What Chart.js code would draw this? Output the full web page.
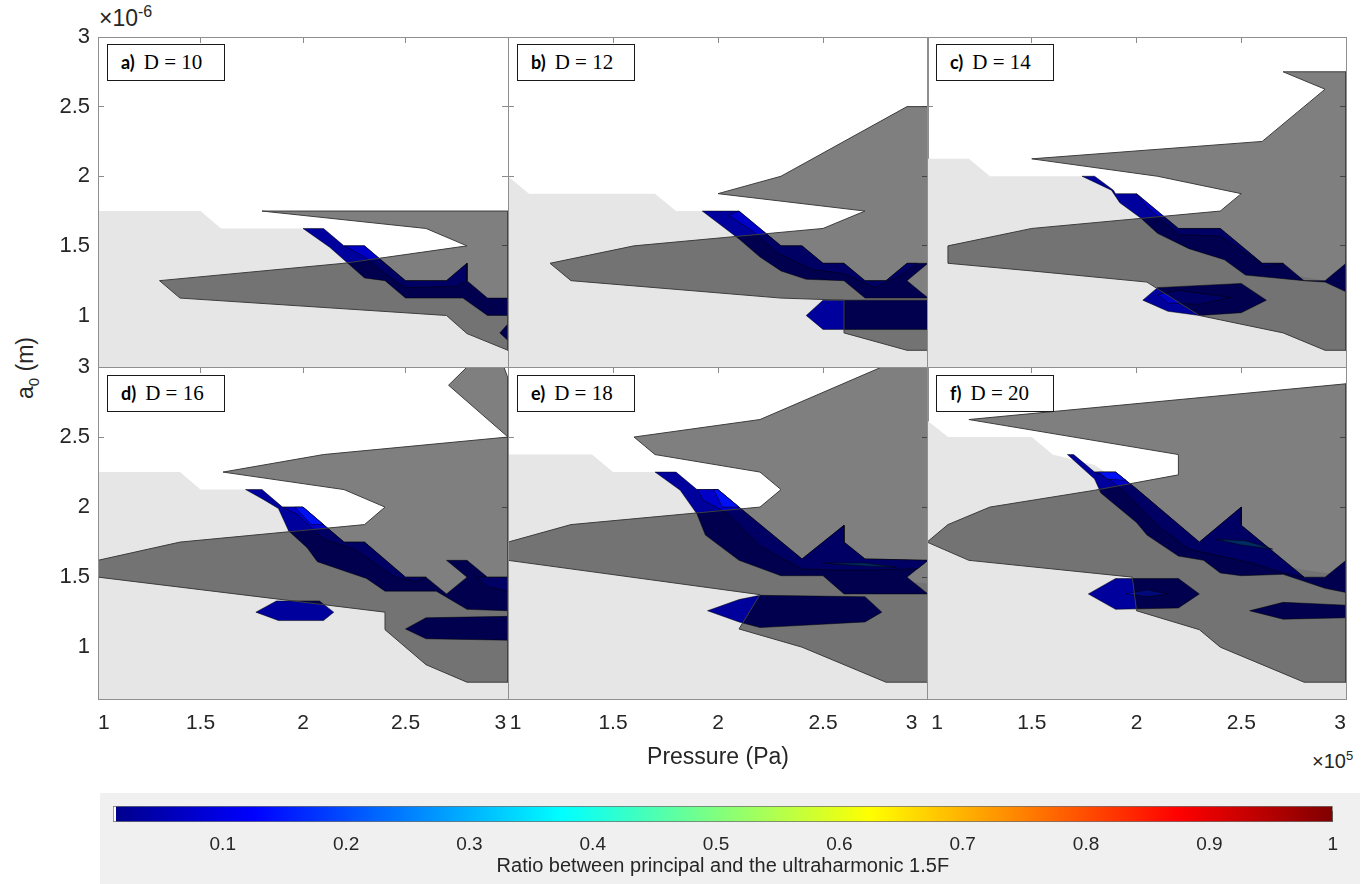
<!DOCTYPE html>
<html>
<head>
<meta charset="utf-8">
<title>Ratio contours</title>
<script src="https://cdn.jsdelivr.net/npm/chart.js@4.4.1/dist/chart.umd.min.js"></script>
<style>
  html, body { margin: 0; padding: 0; background: #fff; }
  #fig { position: relative; width: 1362px; height: 884px; overflow: hidden;
         font-family: "Liberation Sans", Arial, sans-serif; color: #262626; }
  #fig canvas { position: absolute; }
  .frame { position: absolute; border: 1px solid #8f8f8f; box-sizing: border-box; pointer-events: none; }
  .tag { position: absolute; width: 118px; height: 37px; box-sizing: border-box; border: 1.5px solid #1a1a1a;
         background: #fff; line-height: 34px; padding-left: 13px; white-space: nowrap; color: #000; }
  .tag b { font-family: Lato, "Open Sans", sans-serif; font-size: 18px; margin-right: 9px; }
  .tag span { font-family: "Liberation Serif", serif; font-size: 21px; }
  .txt { position: absolute; white-space: nowrap; }
  #cbbox { position: absolute; left: 100px; top: 793px; width: 1260px; height: 91px; background: #f0f0f0; }
</style>
</head>
<body>
<div id="fig">
  <div id="cbbox"></div>
  <div class="txt" style="left:99px;top:3px;font-size:23px;">&times;10<sup style="font-size:16px;">-6</sup></div>
  <div class="txt" style="left:1312px;top:748px;font-size:20px;">&times;10<sup style="font-size:13px;">5</sup></div>
  <div class="txt" style="left:27px;top:368px;font-size:23px;transform:translate(-50%,-50%) rotate(-90deg);">a<sub style="font-size:15px;">0</sub> (m)</div>
</div>
<script>
// axes
const xTicks = [1, 1.5, 2, 2.5, 3];
const yTicks = [1, 1.5, 2, 2.5, 3];
const xMin = 1, xMax = 3;
const yMin = 0.63, yMax = 3;

// colorbar
const cbTicks = [0.1, 0.2, 0.3, 0.4, 0.5, 0.6, 0.7, 0.8, 0.9, 1];
const cbMin = 0.011, cbMax = 1;
const jetStops = [[0.0136, '#00008d'], [0.125, '#0000ff'], [0.375, '#00ffff'], [0.625, '#ffff00'], [0.875, '#ff0000'], [1, '#800000']];

const panelLetters = ['a)', 'b)', 'c)', 'd)', 'e)', 'f)'];
const panelD = [10, 12, 14, 16, 18, 20];

// polygons, [pressure x1e5, a0 x1e-6]
// a) D = 10
const lightA = [[1,0.5],[1,1.75],[1.5,1.75],[1.6,1.625],[2.05,1.625],[2.15,1.5],[2.28,1.375],[2.4,1.25],[2.55,1.17],[2.8,1.12],[2.9,1.05],[3.05,1.05],[3.05,0.5]];
const blueA = [[2.0,1.625],[2.1,1.625],[2.2,1.5],[2.3,1.5],[2.4,1.375],[2.5,1.25],[2.7,1.25],[2.8,1.375],[2.8,1.25],[2.9,1.125],[3.0,1.125],[3.0,1.0],[2.9,1.0],[2.78,1.125],[2.5,1.125],[2.4,1.25],[2.3,1.27],[2.23,1.36],[2.13,1.49]];
const blueA2 = [[2.2,1.5],[2.3,1.5],[2.4,1.375],[2.5,1.25],[2.7,1.25],[2.8,1.375],[2.8,1.25],[2.75,1.21],[2.5,1.2],[2.4,1.3],[2.3,1.42],[2.24,1.47]];
const blueA3 = [[2.96,0.875],[3.0,0.94],[3.0,0.82]];
const shadeA = [[1.8,1.75],[3.0,1.75],[3.0,0.75],[2.8,0.87],[2.7,1.0],[1.4,1.125],[1.3,1.25],[2.2,1.375],[2.8,1.5],[2.6,1.625]];

// b) D = 12
const lightB = [[1,0.5],[1,2.0],[1.1,1.875],[1.7,1.875],[1.8,1.75],[2.0,1.75],[2.2,1.55],[2.35,1.42],[2.55,1.3],[2.75,1.18],[3.05,1.15],[3.05,0.5]];
const blueB = [[1.925,1.75],[2.1,1.75],[2.3,1.5],[2.4,1.5],[2.5,1.375],[2.6,1.375],[2.7,1.25],[2.8,1.25],[2.9,1.375],[3.0,1.375],[2.9,1.25],[3.0,1.125],[2.7,1.125],[2.6,1.25],[2.42,1.26],[2.3,1.32],[2.2,1.42],[2.1,1.55]];
const blueB2 = [[2.1,1.75],[2.3,1.5],[2.4,1.5],[2.5,1.375],[2.6,1.375],[2.7,1.25],[2.8,1.25],[2.9,1.375],[2.95,1.375],[2.88,1.3],[2.75,1.2],[2.6,1.3],[2.45,1.33],[2.28,1.45],[2.17,1.6],[2.05,1.72]];
const blueB3 = [[2.42,1.0],[2.5,1.11],[3.0,1.11],[3.0,0.9],[2.5,0.9]];
const shadeB = [[2.0,1.875],[2.3,2.0],[2.9,2.5],[3.0,2.5],[3.0,0.75],[2.9,0.75],[2.6,0.875],[2.6,1.11],[2.3,1.125],[1.3,1.25],[1.2,1.375],[1.6,1.5],[2.5,1.625],[2.7,1.75]];

// c) D = 14
const lightC = [[1,0.5],[1,2.125],[1.2,2.125],[1.3,2.0],[1.8,2.0],[1.9,1.875],[2.05,1.8],[2.2,1.6],[2.45,1.5],[2.6,1.33],[2.9,1.25],[3.05,1.2],[3.05,0.5]];
const blueC = [[1.74,2.0],[1.8,2.0],[1.89,1.9],[1.9,1.875],[2.0,1.875],[2.2,1.625],[2.4,1.625],[2.6,1.375],[2.7,1.375],[2.8,1.25],[2.9,1.25],[3.0,1.375],[3.0,1.17],[2.9,1.24],[2.8,1.25],[2.52,1.29],[2.42,1.4],[2.25,1.48],[2.1,1.59],[2.02,1.7],[1.92,1.81],[1.88,1.9]];
const blueC2 = [[2.0,1.875],[2.2,1.625],[2.4,1.625],[2.6,1.375],[2.7,1.375],[2.62,1.35],[2.4,1.57],[2.2,1.58],[2.05,1.78]];
const blueC3 = [[2.03,1.11],[2.1,1.2],[2.5,1.23],[2.62,1.11],[2.5,1.02],[2.3,1.0],[2.15,1.03]];
const blueC4 = [[2.1,1.15],[2.2,1.18],[2.45,1.13],[2.3,1.08],[2.15,1.09]];
const shadeC = [[2.7,2.75],[3.0,2.75],[3.0,0.75],[2.9,0.75],[2.7,0.875],[2.3,1.0],[2.05,1.24],[1.5,1.32],[1.1,1.375],[1.1,1.5],[1.5,1.625],[2.4,1.75],[2.5,1.875],[2.1,2.0],[1.5,2.125],[2.6,2.25],[2.9,2.625]];

// d) D = 16
const lightD = [[1,0.5],[1,2.25],[1.4,2.25],[1.5,2.125],[1.8,2.125],[1.9,2.0],[2.0,1.95],[2.15,1.75],[2.35,1.6],[2.55,1.45],[2.8,1.35],[3.05,1.3],[3.05,0.5]];
const blueD = [[1.72,2.125],[1.8,2.125],[1.9,2.0],[2.0,2.0],[2.2,1.75],[2.3,1.75],[2.5,1.5],[2.6,1.5],[2.7,1.38],[2.8,1.5],[2.7,1.62],[2.8,1.62],[2.9,1.5],[3.0,1.5],[3.0,1.26],[2.8,1.27],[2.65,1.4],[2.4,1.4],[2.31,1.49],[2.07,1.61],[2.02,1.71],[1.93,1.83],[1.88,1.99],[1.8,2.06]];
const blueD2 = [[1.9,2.0],[2.0,2.0],[2.2,1.75],[2.3,1.75],[2.5,1.5],[2.6,1.5],[2.55,1.47],[2.45,1.5],[2.25,1.7],[2.1,1.77],[1.97,1.95]];
const blueD3 = [[1.96,2.0],[2.0,2.0],[2.1,1.875],[2.04,1.875]];
const blueD4 = [[2.85,1.5],[3.0,1.5],[3.0,1.4],[2.9,1.43]];
const blueD5 = [[1.77,1.25],[1.87,1.33],[2.08,1.33],[2.15,1.25],[2.1,1.19],[1.88,1.19]];
const blueD6 = [[2.5,1.13],[2.6,1.21],[3.0,1.22],[3.0,1.05],[2.6,1.06]];
const shadeD = [[1.61,2.25],[2.1,2.375],[3.0,2.5],[3.0,0.75],[2.8,0.75],[2.6,0.875],[2.4,1.125],[2.4,1.25],[1.0,1.5],[1.0,1.62],[1.4,1.75],[2.3,1.875],[2.4,2.0],[2.2,2.125]];
const shadeD2 = [[2.71,2.87],[2.8,3.0],[2.98,3.0],[3.0,2.92],[3.0,2.5]];

// e) D = 18
const lightE = [[1,0.5],[1,2.375],[1.4,2.375],[1.5,2.25],[1.8,2.25],[1.9,2.1],[2.05,2.0],[2.3,1.7],[2.6,1.5],[3.05,1.45],[3.05,0.5]];
const blueE = [[1.7,2.25],[1.8,2.25],[1.9,2.125],[2.0,2.125],[2.1,2.0],[2.4,1.63],[2.6,1.87],[2.6,1.75],[2.7,1.63],[3.0,1.62],[2.9,1.5],[3.0,1.38],[2.6,1.38],[2.5,1.51],[2.3,1.51],[2.1,1.62],[1.94,1.8],[1.9,1.95],[1.82,2.12]];
const blueE2 = [[1.9,2.125],[2.0,2.125],[2.1,2.0],[2.4,1.63],[2.6,1.87],[2.6,1.75],[2.7,1.63],[3.0,1.62],[2.95,1.56],[2.7,1.55],[2.55,1.55],[2.4,1.56],[2.2,1.72],[2.05,1.95],[1.93,2.05]];
const blueE3 = [[1.98,2.125],[2.0,2.125],[2.1,2.0],[2.02,2.0]];
const blueE4 = [[2.5,1.6],[2.7,1.6],[2.85,1.57],[2.7,1.58]];
const blueE5 = [[1.95,1.26],[2.1,1.34],[2.2,1.37],[2.7,1.36],[2.78,1.25],[2.7,1.18],[2.2,1.14],[2.1,1.18]];
const shadeE = [[1.6,2.5],[2.2,2.625],[2.78,3.0],[3.0,3.0],[3.0,0.75],[2.8,0.75],[2.4,1.0],[2.1,1.13],[2.2,1.375],[1.0,1.62],[1.0,1.75],[1.3,1.875],[2.2,2.0],[2.3,2.125],[2.2,2.25],[1.7,2.375]];

// f) D = 20
const lightF = [[1,0.5],[1,2.62],[1.1,2.5],[1.5,2.5],[1.6,2.375],[1.8,2.3],[1.95,2.15],[2.2,1.8],[2.5,1.65],[2.8,1.55],[3.05,1.5],[3.05,0.5]];
const blueF = [[1.67,2.375],[1.7,2.375],[1.8,2.25],[1.9,2.25],[2.0,2.13],[2.3,1.75],[2.5,2.0],[2.5,1.87],[2.8,1.5],[2.9,1.5],[3.0,1.62],[3.0,1.39],[2.9,1.42],[2.7,1.52],[2.5,1.51],[2.4,1.53],[2.32,1.62],[2.2,1.65],[2.05,1.8],[2.0,1.89],[1.83,2.1],[1.8,2.2]];
const blueF2 = [[1.8,2.25],[1.9,2.25],[2.0,2.13],[2.3,1.75],[2.5,2.0],[2.5,1.87],[2.8,1.5],[2.7,1.53],[2.55,1.6],[2.4,1.65],[2.25,1.7],[2.1,1.87],[1.95,2.1],[1.87,2.2]];
const blueF3 = [[2.38,1.77],[2.52,1.76],[2.65,1.7],[2.5,1.73]];
const blueF4 = [[1.82,2.25],[1.9,2.25],[1.95,2.19],[1.86,2.2]];
const blueF5 = [[1.77,1.38],[1.9,1.49],[2.2,1.49],[2.3,1.38],[2.2,1.28],[1.9,1.27]];
const blueF6 = [[1.95,1.38],[2.05,1.41],[2.15,1.38],[2.05,1.36]];
const blueF7 = [[2.54,1.26],[2.7,1.32],[3.0,1.3],[3.0,1.21],[2.7,1.2]];
const shadeF = [[1.2,2.625],[3.0,2.88],[3.0,0.75],[2.8,0.75],[2.4,1.0],[2.3,1.125],[2.0,1.26],[1.98,1.5],[1.2,1.62],[1.0,1.75],[1.1,1.875],[1.3,2.0],[1.8,2.12],[2.2,2.23],[2.2,2.375]];

const LIGHT = '#e6e6e6';
const SHADE = 'rgba(0,0,0,0.5)';
const L1 = '#00009c', L2 = '#0000c8', L3 = '#0010f4', TEAL = '#0058c8';

// bottom layer first
const panelLayers = [
  [[lightA, LIGHT, 'bg'], [blueA, L1, 'c'], [blueA2, L2, 'c'], [blueA3, L1, 'c'], [shadeA, SHADE, 'sh']],
  [[lightB, LIGHT, 'bg'], [blueB, L1, 'c'], [blueB2, L2, 'c'], [blueB3, L1, 'c'], [shadeB, SHADE, 'sh']],
  [[lightC, LIGHT, 'bg'], [blueC, L1, 'c'], [blueC2, L2, 'c'], [blueC3, L1, 'c'], [blueC4, L2, 'c'], [shadeC, SHADE, 'sh']],
  [[lightD, LIGHT, 'bg'], [blueD, L1, 'c'], [blueD2, L2, 'c'], [blueD3, L3, 'c'], [blueD4, L2, 'c'], [blueD5, L1, 'c'], [blueD6, L1, 'c'], [shadeD, SHADE, 'sh'], [shadeD2, SHADE, 'sh']],
  [[lightE, LIGHT, 'bg'], [blueE, L1, 'c'], [blueE2, L2, 'c'], [blueE3, L3, 'c'], [blueE4, TEAL, 'c'], [blueE5, L1, 'c'], [shadeE, SHADE, 'sh']],
  [[lightF, LIGHT, 'bg'], [blueF, L1, 'c'], [blueF2, L2, 'c'], [blueF3, TEAL, 'c'], [blueF4, L3, 'c'], [blueF5, L1, 'c'], [blueF6, L3, 'c'], [blueF7, L1, 'c'], [shadeF, SHADE, 'sh']]
];

const colL = [98, 508, 927], colR = [508, 928, 1346];
const rowT = [37, 367], rowB = [367, 699];
// spacing round the end labels where two panels meet
const firstLabel = ['1', '\u200a1', '\u20091'];
const lastLabel = ['3\u200a', '3\u2002', '3'];
const FONT = '"Liberation Sans", Arial, sans-serif';
const INK = '#262626';
const fig = document.getElementById('fig');

function toDataset(layer, idx, n) {
  const [pts, color, kind] = layer;
  const data = pts.map(([x, y]) => ({ x, y }));
  data.push({ x: pts[0][0], y: pts[0][1] });
  return {
    data,
    fill: 'shape',
    backgroundColor: color,
    borderColor: kind === 'sh' ? '#3d3d3d' : (kind === 'c' ? 'rgba(0,0,0,0.7)' : 'rgba(0,0,0,0)'),
    borderWidth: kind === 'sh' ? 1 : (kind === 'c' ? 0.7 : 0),
    pointRadius: 0,
    tension: 0,
    order: n - idx
  };
}

const setTicks = list => s => { s.ticks = list.map(v => ({ value: v })); };
const innerTicks = () => ({ display: true, drawOnChartArea: false, drawTicks: true, tickLength: -6, color: '#8a8a8a', lineWidth: 1 });

function makePanel(i) {
  const col = i % 3, row = Math.floor(i / 3);
  const L = colL[col], R = colR[col], T = rowT[row], B = rowB[row];
  const padL = col === 0 ? 98 : 40, padR = 40, padT = 40, padB = row === 1 ? 82 : 40;

  const cv = document.createElement('canvas');
  cv.width = R - L + padL + padR;
  cv.height = B - T + padT + padB;
  cv.style.left = (L - padL) + 'px';
  cv.style.top = (T - padT) + 'px';
  fig.appendChild(cv);

  new Chart(cv, {
    type: 'line',
    data: { datasets: panelLayers[i].map((ly, k, arr) => toDataset(ly, k, arr.length)) },
    options: {
      responsive: false,
      animation: false,
      events: [],
      layout: { padding: 0, autoPadding: false },
      plugins: { legend: { display: false }, tooltip: { enabled: false } },
      scales: {
        x: {
          type: 'linear', position: 'bottom', min: xMin, max: xMax, z: 1,
          afterBuildTicks: setTicks(xTicks),
          afterFit: s => { s.height = padB; },
          grid: innerTicks(),
          border: { display: false },
          ticks: { display: row === 1, align: 'inner', padding: 18, autoSkip: false, maxRotation: 0,
                   font: { family: FONT, size: 21 }, color: INK,
                   callback: v => v === xMin ? firstLabel[col] : (v === xMax ? lastLabel[col] : String(v)) },
          title: { display: i === 4, text: 'Pressure (Pa)', font: { family: FONT, size: 23 }, color: INK,
                   padding: { top: 0, bottom: 10 } }
        },
        x2: {
          type: 'linear', position: 'top', min: xMin, max: xMax, z: 1,
          afterBuildTicks: setTicks(xTicks),
          afterFit: s => { s.height = padT; },
          grid: innerTicks(),
          border: { display: false },
          ticks: { display: false }
        },
        y: {
          type: 'linear', position: 'left', min: yMin, max: yMax, z: 1,
          afterBuildTicks: setTicks(yTicks),
          afterFit: s => { s.width = padL; },
          grid: innerTicks(),
          border: { display: false },
          ticks: { display: col === 0, padding: 14, font: { family: FONT, size: 22 }, color: INK,
                   callback: v => String(v) }
        },
        y2: {
          type: 'linear', position: 'right', min: yMin, max: yMax, z: 1,
          afterBuildTicks: setTicks(yTicks),
          afterFit: s => { s.width = padR; },
          grid: innerTicks(),
          border: { display: false },
          ticks: { display: false }
        }
      }
    }
  });

  const frame = document.createElement('div');
  frame.className = 'frame';
  frame.style.left = L + 'px';
  frame.style.top = T + 'px';
  frame.style.width = (R - L + 1) + 'px';
  frame.style.height = (B - T + 1) + 'px';
  fig.appendChild(frame);
}

for (let i = 0; i < 6; i++) makePanel(i);

// labels in the corner boxes
const tagLeft = [107, 517, 936];
const tagTop = [44, 375];
panelLetters.forEach((letter, i) => {
  const tag = document.createElement('div');
  tag.className = 'tag';
  tag.style.left = tagLeft[i % 3] + 'px';
  tag.style.top = tagTop[Math.floor(i / 3)] + 'px';
  tag.innerHTML = '<b>' + letter + '</b><span>D = ' + panelD[i] + '</span>';
  fig.appendChild(tag);
});

// colorbar
function jetFill(c) {
  const chart = c.chart;
  const xs = chart.scales.x;
  if (!chart.chartArea || !xs) return jetStops[0][1];
  const p0 = xs.getPixelForValue(0), p1 = xs.getPixelForValue(1);
  const g = chart.ctx.createLinearGradient(p0, 0, p1, 0);
  g.addColorStop(0, '#ffffff');
  g.addColorStop(0.0135, '#ffffff');
  jetStops.forEach(([p, col]) => g.addColorStop(p, col));
  return g;
}

const cb = document.createElement('canvas');
cb.width = 1260;
cb.height = 91;
cb.style.left = '100px';
cb.style.top = '793px';
fig.appendChild(cb);

new Chart(cb, {
  type: 'bar',
  data: {
    labels: [''],
    datasets: [{
      data: [[cbMin, cbMax]],
      backgroundColor: jetFill,
      borderColor: '#6f6f6f',
      borderWidth: 1,
      borderSkipped: false,
      barPercentage: 1,
      categoryPercentage: 1
    }]
  },
  options: {
    indexAxis: 'y',
    responsive: false,
    animation: false,
    events: [],
    layout: { padding: { left: 13, right: 16, top: 13, bottom: 0 }, autoPadding: false },
    plugins: { legend: { display: false }, tooltip: { enabled: false } },
    scales: {
      x: {
        type: 'linear', min: cbMin, max: cbMax, z: 1,
        afterBuildTicks: setTicks(cbTicks),
        afterFit: s => { s.height = 62; },
        grid: { display: true, drawOnChartArea: false, drawTicks: true, tickLength: -11, color: INK, lineWidth: 1 },
        border: { display: false },
        ticks: { padding: 22, autoSkip: false, maxRotation: 0, font: { family: FONT, size: 19 }, color: INK,
                 callback: v => String(v) },
        title: { display: true, text: 'Ratio between principal and the ultraharmonic 1.5F',
                 font: { family: FONT, size: 20 }, color: INK, padding: { top: 0, bottom: 6 } }
      },
      y: { display: false }
    }
  }
});
</script>
</body>
</html>
